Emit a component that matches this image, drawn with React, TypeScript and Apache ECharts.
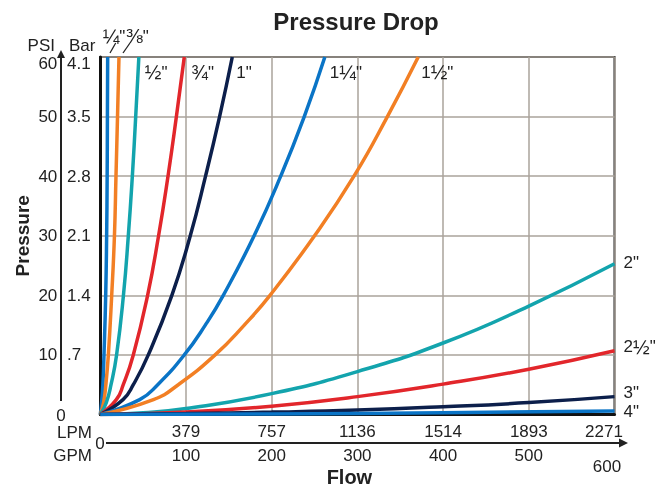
import React, { useEffect, useRef } from 'react';
import * as echarts from 'echarts';

// Flow (GPM) vs pressure drop (PSI)
const pipeQuarter = [[0, 0], [1.5, 2], [3, 5], [4.3, 10], [6.3, 20], [7.4, 30], [8, 40], [8.3, 50], [8.6, 60]];
const pipeThreeEighths = [[0, 0], [3.8, 2], [6.5, 5], [9.4, 10], [13.3, 20], [16.5, 30], [18.3, 40], [20.1, 50], [21.8, 60]];
const pipeHalf = [[0, 0], [7, 2], [12.5, 5], [19, 10], [27, 20], [32.7, 30], [37.4, 40], [41.3, 50], [45, 60]];
const pipeThreeQuarter = [[0, 0], [18.7, 2.5], [26.8, 5], [38.5, 10], [55.2, 20], [68, 30], [79, 40], [88.8, 50], [98, 60]];
const pipeOne = [[0, 0], [26.5, 2.5], [38.5, 5], [56, 10], [83.5, 20], [105, 30], [122.8, 40], [139.2, 50], [154, 60]];
const pipeOneQuarter = [[0, 0], [46, 2.5], [67, 5], [98, 10], [122.5, 15], [143.5, 20], [179.5, 30], [210.5, 40], [238, 50], [262, 60]];
const pipeOneHalf = [[0, 0], [62, 2.5], [91, 5], [134, 10], [168, 15], [198, 20], [250, 30], [296, 40], [335, 50], [371, 60]];
const pipeTwo = [[0, 0], [50, 0.3], [100, 1], [200, 3.5], [300, 7.2], [400, 12], [500, 18.2], [600, 25.3]];
const pipeTwoHalf = [[0, 0], [100, 0.4], [200, 1.4], [300, 3], [400, 5.1], [500, 7.6], [600, 10.7]];
const pipeThree = [[0, 0], [100, 0.15], [200, 0.4], [300, 0.75], [400, 1.3], [500, 2], [600, 3]];
const pipeFour = [[0, 0], [200, 0.1], [400, 0.3], [600, 0.6]];

const curveNames = ['¼"', '⅜"', '½"', '¾"', '1"', '1¼"', '1½"', '2"', '2½"', '3"', '4"'];
const curveData = [pipeQuarter, pipeThreeEighths, pipeHalf, pipeThreeQuarter, pipeOne, pipeOneQuarter, pipeOneHalf, pipeTwo, pipeTwoHalf, pipeThree, pipeFour];

const lpmLabels = ['0', '379', '757', '1136', '1514', '1893', '2271'];
const barLabels = ['0', '.7', '1.4', '2.1', '2.8', '3.5', '4.1'];

// styles
const BLUE = '#0a74c6';
const ORANGE = '#f27f24';
const TEAL = '#13a4ad';
const RED = '#e2262b';
const NAVY = '#0c1f4b';
const curveColors = [BLUE, ORANGE, TEAL, RED, NAVY, BLUE, ORANGE, TEAL, RED, NAVY, BLUE];
const labelOffsets = [[-5, -21], [7, -21], [6, 15], [7, 15], [4, 15], [5, 15], [3, 15], [9, -1], [9, -4], [9, -4], [9, 1]];

const FONT = '"Liberation Sans", Arial, Helvetica, sans-serif';
const TXT = '#222';
const GRID_COLOR = '#aaa39b';

// wrap fraction glyphs in a larger rich style so they read like the reference
const richLabel = (s: string) =>
  s.replace(/([¼½¾⅜])/g, '{f|$1}').replace(/([^{}|f¼½¾⅜]+)(?![^{]*})/g, '{n|$1}');

export default function App() {
  const ref = useRef<HTMLDivElement>(null);

  useEffect(() => {
    if (!ref.current) return;
    const chart = echarts.init(ref.current, undefined, { renderer: 'svg' });

    const series = curveData.map((d, i) => ({
      type: 'line',
      name: curveNames[i],
      data: d,
      xAxisIndex: 0,
      yAxisIndex: 0,
      smooth: 0.5,
      symbol: 'none',
      showSymbol: false,
      clip: true,
      lineStyle: { color: curveColors[i], width: 3.5 },
      itemStyle: { color: curveColors[i] },
      emphasis: { disabled: true },
      endLabel: {
        show: true,
        formatter: richLabel(curveNames[i]),
        offset: labelOffsets[i],
        distance: 0,
        align: 'left',
        verticalAlign: 'middle',
        fontSize: 17,
        fontFamily: FONT,
        color: TXT,
        rich: {
          n: { fontSize: 17, fontFamily: FONT, color: TXT },
          f: { fontSize: 20, fontFamily: FONT, color: TXT },
        },
      },
    }));

    const baseText = { fontSize: 17, fontFamily: FONT, color: TXT };

    chart.setOption({
      animation: false,
      textStyle: { fontFamily: FONT },
      title: {
        text: 'Pressure Drop',
        left: 351,
        top: 4,
        textAlign: 'center',
        textStyle: { fontFamily: FONT, fontSize: 24, fontWeight: 'bold', color: TXT },
      },
      grid: {
        left: 100.3, right: 50.5, top: 57, bottom: 74.5,
        show: true, borderColor: '#222', borderWidth: 2,
        containLabel: false, outerBoundsMode: 'none',
      },
      xAxis: [
        {
          type: 'value', min: 0, max: 600, interval: 100, position: 'bottom',
          axisLine: { show: true, onZero: false, lineStyle: { color: '#111', width: 3 } },
          axisTick: { show: false },
          axisLabel: { show: false },
          splitLine: { show: true, lineStyle: { color: GRID_COLOR, width: 1.5 } },
        },
        {
          type: 'value', min: 0, max: 600, interval: 100, position: 'bottom', offset: 28,
          axisLine: { show: false }, axisTick: { show: false }, splitLine: { show: false },
          axisLabel: {
            ...baseText,
            inside: true,
            margin: 3,
            formatter: (v: number) => {
              const i = Math.round(v / 100);
              if (i === 0) return '';
              if (i === 6) return '{e|' + lpmLabels[i] + '}';
              return lpmLabels[i];
            },
            rich: { e: { ...baseText, padding: [0, 21, 0, 0] } },
          },
        },
        {
          type: 'value', min: 0, max: 600, interval: 100, position: 'bottom', offset: 28,
          axisLine: { show: false }, axisTick: { show: false }, splitLine: { show: false },
          axisLabel: {
            ...baseText,
            margin: 4,
            formatter: (v: number) => {
              if (v === 0) return '';
              if (v === 600) return '{e|600}';
              return String(v);
            },
            rich: { e: { ...baseText, padding: [11, 15, 0, 0] } },
          },
          name: 'Flow',
          nameLocation: 'middle',
          nameGap: 24,
          nameMoveOverlap: false,
          nameTextStyle: { fontFamily: FONT, fontSize: 20, fontWeight: 'bold', color: TXT, padding: [0, 16, 0, 0] },
        },
      ],
      yAxis: [
        {
          type: 'value', min: 0, max: 60, interval: 10, position: 'left',
          axisLine: { show: true, onZero: false, lineStyle: { color: '#111', width: 3 } },
          axisTick: { show: false },
          splitLine: { show: true, lineStyle: { color: GRID_COLOR, width: 1.5 } },
          axisLabel: {
            ...baseText,
            margin: 43,
            formatter: (v: number) => (v === 0 ? '' : v === 60 ? '{t|60}' : String(v)),
            rich: { t: { ...baseText, padding: [12, 0, 0, 0] } },
          },
          name: 'Pressure',
          nameLocation: 'middle',
          nameGap: 68,
          nameRotate: 90,
          nameMoveOverlap: false,
          nameTextStyle: { fontFamily: FONT, fontSize: 19, fontWeight: 'bold', color: TXT },
        },
        {
          type: 'value', min: 0, max: 60, interval: 10, position: 'left',
          axisLine: { show: false }, axisTick: { show: false }, splitLine: { show: false },
          axisLabel: {
            ...baseText,
            margin: 33.3,
            align: 'left',
            formatter: (v: number) => {
              const i = Math.round(v / 10);
              if (i === 0) return '';
              if (i === 6) return '{t|' + barLabels[i] + '}';
              return barLabels[i];
            },
            rich: { t: { ...baseText, padding: [12, 0, 0, 0] } },
          },
        },
      ],
      graphic: [
        { type: 'text', x: 55, y: 45, style: { text: 'PSI', fill: TXT, fontSize: 17, fontFamily: FONT, align: 'right', verticalAlign: 'middle' } },
        { type: 'text', x: 69, y: 45, style: { text: 'Bar', fill: TXT, fontSize: 17, fontFamily: FONT, align: 'left', verticalAlign: 'middle' } },
        { type: 'text', x: 61, y: 415, style: { text: '0', fill: TXT, fontSize: 17, fontFamily: FONT, align: 'center', verticalAlign: 'middle' } },
        { type: 'text', x: 100, y: 443, style: { text: '0', fill: TXT, fontSize: 17, fontFamily: FONT, align: 'center', verticalAlign: 'middle' } },
        { type: 'text', x: 92, y: 432, style: { text: 'LPM', fill: TXT, fontSize: 17, fontFamily: FONT, align: 'right', verticalAlign: 'middle' } },
        { type: 'text', x: 92, y: 455, style: { text: 'GPM', fill: TXT, fontSize: 17, fontFamily: FONT, align: 'right', verticalAlign: 'middle' } },
        { type: 'line', shape: { x1: 61, y1: 401, x2: 61, y2: 56 }, style: { stroke: '#222', lineWidth: 2 } },
        { type: 'polygon', shape: { points: [[57, 58], [61, 50], [65, 58]] }, style: { fill: '#222' } },
        { type: 'line', shape: { x1: 106, y1: 443, x2: 621, y2: 443 }, style: { stroke: '#222', lineWidth: 2 } },
        { type: 'polygon', shape: { points: [[619, 438.5], [628, 443], [619, 447.5]] }, style: { fill: '#222' } },
        { type: 'line', shape: { x1: 115.7, y1: 43, x2: 110, y2: 53 }, style: { stroke: '#222', lineWidth: 1.3 } },
        { type: 'line', shape: { x1: 130, y1: 43, x2: 123, y2: 53 }, style: { stroke: '#222', lineWidth: 1.3 } },
      ],
      series,
    });

    return () => chart.dispose();
  }, []);

  return <div ref={ref} style={{ position: 'fixed', left: 0, top: 0, width: 665, height: 489 }} />;
}
